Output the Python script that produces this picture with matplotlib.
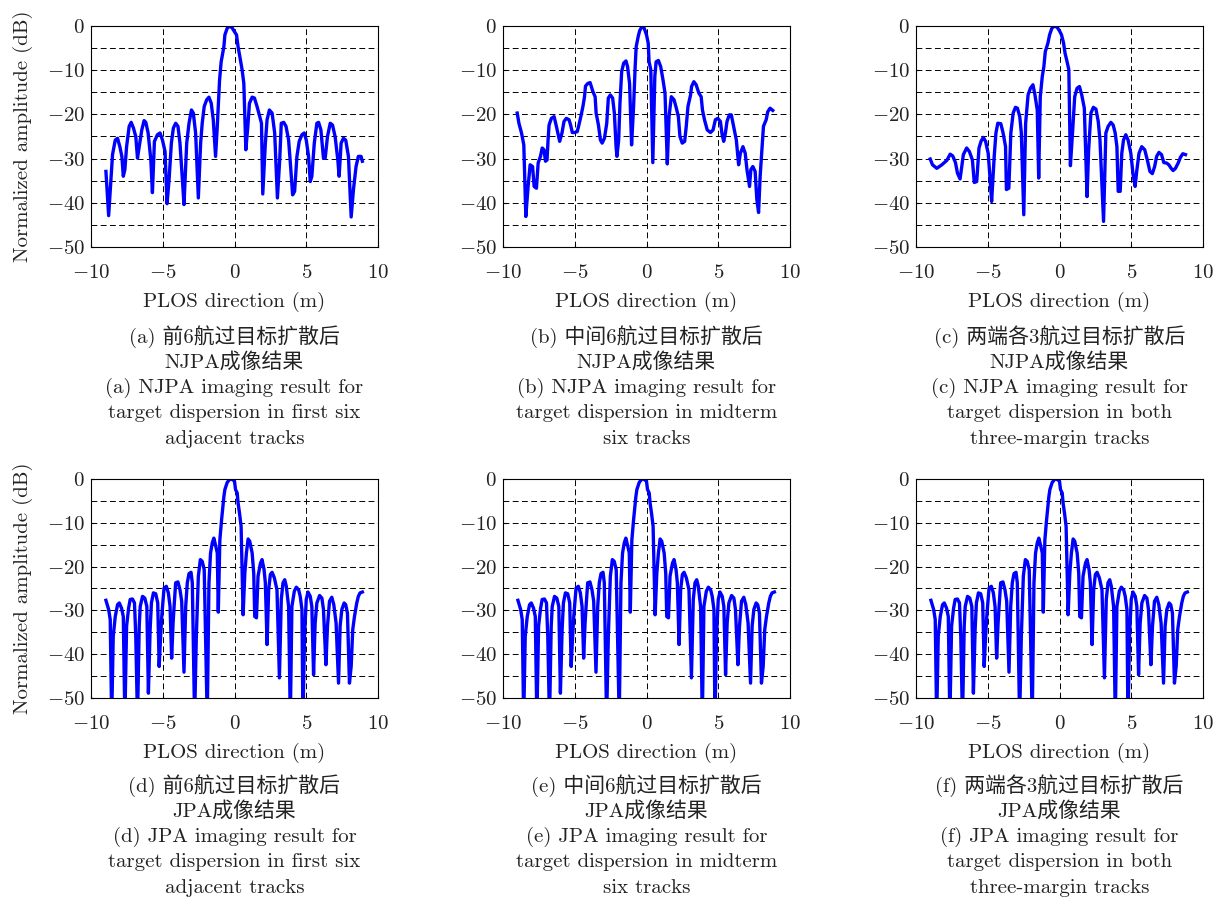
import matplotlib
matplotlib.use("Agg")
import matplotlib.pyplot as plt
import numpy as np

plt.rcParams['font.family'] = ['cmr10', 'Noto Sans CJK SC']
plt.rcParams['mathtext.fontset'] = 'cm'
plt.rcParams['axes.formatter.use_mathtext'] = True
plt.rcParams['font.size'] = 15

# (x in m, normalized amplitude in dB)
njpa_first = [(-8.96,-32.9),(-8.77,-42.9),(-8.5,-29.1),(-8.31,-25.8),(-8.15,-25.4),(-7.99,-27.3),(-7.85,-29.5),(-7.75,-34.0),(-7.64,-32.5),(-7.52,-27.3),(-7.34,-22.7),(-7.2,-21.8),(-7.04,-23.1),(-6.88,-25.0),(-6.76,-29.9),(-6.64,-27.3),(-6.46,-23.5),(-6.3,-21.4),(-6.18,-21.8),(-6.02,-24.2),(-5.83,-30.3),(-5.72,-37.7),(-5.58,-26.1),(-5.37,-24.6),(-5.19,-24.2),(-5.02,-25.8),(-4.84,-28.4),(-4.7,-40.2),(-4.56,-34.8),(-4.4,-26.5),(-4.26,-23.1),(-4.1,-22.0),(-3.94,-22.7),(-3.8,-26.5),(-3.63,-34.8),(-3.52,-40.4),(-3.33,-26.5),(-3.17,-22.0),(-3.0,-19.0),(-2.87,-19.7),(-2.71,-24.2),(-2.52,-38.9),(-2.36,-26.5),(-2.25,-22.0),(-2.11,-18.2),(-1.94,-16.7),(-1.78,-16.1),(-1.62,-17.5),(-1.48,-21.2),(-1.32,-29.5),(-1.2,-22.7),(-1.04,-12.2),(-0.93,-8.1),(-0.74,-4.7),(-0.67,-2.0),(-0.51,-0.5),(-0.32,0.0),(-0.16,-0.45),(0.0,-1.3),(0.14,-2.0),(0.25,-4.7),(0.37,-6.9),(0.53,-9.9),(0.65,-13.0),(0.79,-28.0),(0.93,-22.7),(1.04,-17.5),(1.23,-16.1),(1.39,-16.3),(1.57,-18.2),(1.76,-20.5),(1.88,-22.0),(1.97,-38.0),(2.15,-26.5),(2.27,-21.2),(2.43,-19.0),(2.62,-19.7),(2.8,-24.2),(2.99,-38.9),(3.15,-30.3),(3.26,-22.0),(3.43,-21.8),(3.59,-22.7),(3.77,-25.8),(3.91,-31.8),(4.05,-38.2),(4.19,-37.4),(4.35,-29.5),(4.51,-26.1),(4.7,-24.6),(4.86,-24.2),(5.0,-25.8),(5.16,-29.5),(5.28,-35.2),(5.39,-34.0),(5.56,-26.5),(5.74,-22.0),(5.86,-21.8),(6.02,-23.5),(6.2,-29.9),(6.32,-29.9),(6.48,-25.0),(6.67,-22.0),(6.83,-22.4),(7.01,-25.0),(7.2,-30.3),(7.29,-34.0),(7.43,-26.5),(7.59,-25.4),(7.75,-25.8),(7.94,-29.5),(8.13,-43.2),(8.29,-37.0),(8.47,-31.8),(8.63,-29.5),(8.82,-29.5),(8.91,-30.6)]

njpa_mid = [(-9.01,-19.7),(-8.89,-22.0),(-8.71,-24.2),(-8.55,-26.9),(-8.41,-43.1),(-8.25,-36.3),(-8.11,-31.4),(-7.94,-31.8),(-7.83,-36.3),(-7.67,-36.7),(-7.55,-31.0),(-7.39,-29.5),(-7.27,-27.6),(-7.14,-28.0),(-7.04,-30.6),(-6.93,-30.3),(-6.86,-25.8),(-6.79,-22.4),(-6.63,-20.9),(-6.44,-20.5),(-6.28,-22.7),(-6.05,-26.1),(-5.89,-24.2),(-5.75,-21.6),(-5.59,-20.9),(-5.4,-21.2),(-5.29,-22.4),(-5.17,-24.1),(-5.01,-24.1),(-4.83,-23.9),(-4.71,-22.4),(-4.55,-20.1),(-4.43,-18.2),(-4.32,-16.0),(-4.25,-13.6),(-4.09,-13.0),(-3.93,-12.8),(-3.74,-14.8),(-3.58,-16.0),(-3.51,-19.7),(-3.35,-22.4),(-3.21,-25.8),(-3.09,-26.5),(-2.93,-25.4),(-2.77,-22.0),(-2.66,-16.3),(-2.52,-15.6),(-2.36,-16.3),(-2.24,-19.7),(-2.12,-27.3),(-2.06,-29.5),(-1.94,-25.8),(-1.85,-17.5),(-1.73,-10.3),(-1.59,-8.4),(-1.43,-7.9),(-1.32,-9.2),(-1.18,-13.0),(-1.04,-26.9),(-0.9,-18.2),(-0.79,-9.2),(-0.72,-4.7),(-0.58,-2.4),(-0.48,-1.1),(-0.3,0.0),(-0.16,-0.5),(0.0,-2.0),(0.12,-3.9),(0.18,-8.1),(0.3,-9.9),(0.44,-30.9),(0.58,-11.4),(0.67,-8.1),(0.83,-7.8),(0.99,-9.2),(1.15,-12.2),(1.29,-15.2),(1.45,-31.2),(1.57,-20.5),(1.73,-16.0),(1.92,-16.7),(2.08,-18.6),(2.22,-20.5),(2.33,-25.0),(2.49,-26.5),(2.66,-26.1),(2.77,-22.7),(2.89,-18.2),(3.07,-15.6),(3.14,-13.7),(3.3,-12.6),(3.46,-13.3),(3.65,-15.2),(3.81,-16.0),(3.9,-19.0),(4.04,-21.2),(4.23,-23.5),(4.46,-24.1),(4.64,-23.5),(4.8,-21.2),(4.97,-20.9),(5.15,-21.6),(5.27,-24.6),(5.38,-26.1),(5.5,-24.2),(5.61,-21.6),(5.77,-20.1),(5.91,-20.1),(6.07,-22.7),(6.26,-25.8),(6.42,-31.4),(6.54,-28.8),(6.72,-27.3),(6.88,-28.8),(7.0,-32.5),(7.18,-36.3),(7.27,-32.5),(7.41,-31.8),(7.57,-32.9),(7.69,-39.3),(7.81,-42.2),(7.92,-34.0),(8.04,-28.0),(8.15,-22.7),(8.34,-21.2),(8.45,-19.4),(8.61,-18.6),(8.8,-19.1)]

njpa_both = [(-9.01,-30.1),(-8.85,-31.4),(-8.55,-32.2),(-8.2,-31.4),(-7.85,-30.4),(-7.62,-29.0),(-7.44,-29.4),(-7.25,-30.9),(-7.11,-33.3),(-6.93,-34.6),(-6.81,-31.8),(-6.7,-29.1),(-6.47,-27.6),(-6.28,-28.4),(-6.07,-30.3),(-5.94,-35.4),(-5.77,-35.2),(-5.61,-27.6),(-5.47,-26.1),(-5.31,-25.2),(-5.15,-26.1),(-4.97,-28.8),(-4.85,-34.0),(-4.73,-39.7),(-4.55,-29.5),(-4.43,-24.2),(-4.3,-22.0),(-4.09,-22.1),(-3.93,-24.2),(-3.76,-27.3),(-3.7,-37.0),(-3.53,-36.7),(-3.39,-24.2),(-3.23,-19.7),(-3.07,-18.4),(-2.93,-18.6),(-2.77,-20.5),(-2.66,-24.2),(-2.49,-42.7),(-2.36,-22.0),(-2.19,-15.6),(-2.03,-14.1),(-1.85,-13.3),(-1.71,-15.6),(-1.55,-19.0),(-1.45,-34.4),(-1.34,-16.0),(-1.2,-11.4),(-1.09,-9.2),(-0.99,-5.8),(-0.81,-3.9),(-0.69,-2.0),(-0.53,-0.5),(-0.35,0.0),(-0.16,-0.3),(0.0,-1.1),(0.14,-2.0),(0.28,-3.8),(0.39,-6.2),(0.53,-8.1),(0.65,-9.9),(0.76,-31.6),(0.92,-23.5),(1.06,-16.0),(1.22,-14.1),(1.39,-13.7),(1.55,-15.6),(1.73,-18.6),(1.92,-38.6),(2.03,-28.0),(2.19,-19.7),(2.36,-18.4),(2.54,-18.8),(2.7,-21.6),(2.82,-25.8),(3.07,-44.2),(3.23,-24.2),(3.39,-22.7),(3.58,-21.8),(3.74,-22.4),(3.88,-24.2),(4.0,-27.3),(4.09,-37.4),(4.23,-37.4),(4.34,-28.8),(4.46,-25.8),(4.62,-24.6),(4.78,-25.8),(4.97,-28.8),(5.13,-33.7),(5.27,-36.3),(5.38,-32.9),(5.54,-28.8),(5.73,-27.3),(5.94,-28.0),(6.12,-30.3),(6.3,-32.9),(6.47,-33.4),(6.63,-31.8),(6.77,-29.5),(6.93,-28.6),(7.11,-29.1),(7.27,-30.9),(7.46,-31.0),(7.62,-31.4),(7.78,-32.2),(7.92,-32.7),(8.08,-32.2),(8.27,-31.0),(8.43,-29.7),(8.59,-28.9),(8.78,-29.1)]

jpa = [(-8.96,-27.7),(-8.77,-29.8),(-8.66,-32.1),(-8.56,-55.0),(-8.45,-35.9),(-8.31,-31.4),(-8.15,-28.7),(-8.03,-28.3),(-7.87,-29.5),(-7.75,-31.4),(-7.64,-55.0),(-7.52,-33.6),(-7.38,-29.5),(-7.27,-27.5),(-7.11,-27.4),(-6.97,-28.3),(-6.88,-35.9),(-6.76,-55.0),(-6.64,-33.6),(-6.57,-29.1),(-6.41,-26.8),(-6.25,-27.2),(-6.11,-29.1),(-6.0,-48.9),(-5.88,-34.4),(-5.79,-28.3),(-5.65,-26.0),(-5.49,-26.2),(-5.35,-28.3),(-5.25,-42.8),(-5.16,-36.7),(-5.07,-31.4),(-4.91,-24.9),(-4.75,-24.5),(-4.61,-26.0),(-4.49,-29.1),(-4.38,-40.9),(-4.28,-32.9),(-4.21,-29.1),(-4.1,-23.7),(-3.94,-23.5),(-3.8,-25.3),(-3.68,-27.9),(-3.52,-44.1),(-3.4,-29.1),(-3.29,-23.7),(-3.17,-21.6),(-3.03,-21.3),(-2.94,-23.7),(-2.78,-55.0),(-2.66,-35.9),(-2.52,-22.2),(-2.38,-18.4),(-2.25,-18.8),(-2.11,-20.7),(-1.9,-55.0),(-1.78,-23.7),(-1.67,-16.9),(-1.55,-14.6),(-1.44,-13.5),(-1.3,-15.4),(-1.2,-16.9),(-1.13,-30.4),(-1.02,-13.9),(-0.9,-9.3),(-0.74,-4.0),(-0.67,-2.4),(-0.51,-0.8),(-0.32,0.0),(-0.16,-0.1),(0.0,-0.5),(0.07,-2.4),(0.19,-3.2),(0.25,-5.5),(0.35,-7.8),(0.46,-10.8),(0.6,-31.0),(0.72,-21.5),(0.83,-16.9),(0.95,-13.7),(1.06,-14.2),(1.23,-16.9),(1.34,-21.5),(1.41,-31.4),(1.53,-31.7),(1.64,-22.2),(1.81,-19.2),(1.92,-18.4),(2.06,-20.7),(2.15,-23.7),(2.27,-37.8),(2.38,-25.3),(2.5,-21.8),(2.62,-21.3),(2.78,-22.6),(2.96,-25.3),(3.13,-45.4),(3.26,-27.5),(3.38,-23.7),(3.5,-23.0),(3.61,-24.5),(3.77,-29.1),(3.89,-55.0),(4.0,-29.1),(4.17,-25.6),(4.31,-24.7),(4.47,-25.3),(4.58,-26.8),(4.7,-29.8),(4.77,-55.0),(4.88,-35.9),(5.0,-27.5),(5.12,-25.8),(5.28,-26.8),(5.39,-29.1),(5.51,-44.7),(5.62,-32.9),(5.74,-28.3),(5.93,-26.6),(6.09,-27.2),(6.2,-29.8),(6.37,-42.4),(6.48,-33.6),(6.62,-27.9),(6.78,-27.0),(6.92,-28.7),(7.08,-32.9),(7.25,-46.6),(7.36,-33.6),(7.48,-29.8),(7.64,-28.3),(7.75,-28.7),(7.87,-30.6),(8.01,-46.6),(8.13,-42.8),(8.24,-34.4),(8.36,-31.4),(8.52,-28.3),(8.63,-26.8),(8.75,-26.0),(8.91,-25.8)]

curves = [njpa_first, njpa_mid, njpa_both, jpa, jpa, jpa]

captions = [
    ["(a) 前6航过目标扩散后", "NJPA成像结果", "(a) NJPA imaging result for", "target dispersion in first six", "adjacent tracks"],
    ["(b) 中间6航过目标扩散后", "NJPA成像结果", "(b) NJPA imaging result for", "target dispersion in midterm", "six tracks"],
    ["(c) 两端各3航过目标扩散后", "NJPA成像结果", "(c) NJPA imaging result for", "target dispersion in both", "three-margin tracks"],
    ["(d) 前6航过目标扩散后", "JPA成像结果", "(d) JPA imaging result for", "target dispersion in first six", "adjacent tracks"],
    ["(e) 中间6航过目标扩散后", "JPA成像结果", "(e) JPA imaging result for", "target dispersion in midterm", "six tracks"],
    ["(f) 两端各3航过目标扩散后", "JPA成像结果", "(f) JPA imaging result for", "target dispersion in both", "three-margin tracks"],
]

W, H = 1215, 897
fig = plt.figure(figsize=(W / 100, H / 100), dpi=100)

lefts = [91, 503, 916]
width = 287
rows = [(26, 247, [337, 362, 388, 413, 439]), (479, 698, [786, 811, 837, 862, 888])]

for i in range(6):
    r, c = divmod(i, 3)
    top, bottom, cap_y = rows[r]
    ax = fig.add_axes([lefts[c] / W, 1 - bottom / H, width / W, (bottom - top) / H])
    d = np.array(curves[i])
    ax.plot(d[:, 0], d[:, 1], color=(0, 0, 1), lw=2.4, solid_joinstyle='round')
    ax.set_xlim(-10, 10)
    ax.set_ylim(-50, 0)
    ax.set_xticks([-10, -5, 0, 5, 10])
    ax.set_yticks([0, -10, -20, -30, -40, -50])
    ax.set_yticks([-5, -15, -25, -35, -45], minor=True)
    ax.tick_params(which='major', direction='in', length=2.5, width=0.8,
                   labelsize=15, colors='black', labelcolor='#222222')
    ax.tick_params(which='minor', length=0)
    ax.tick_params(axis='x', pad=12)
    ax.tick_params(axis='y', pad=4.5)
    ax.grid(True, which='both', color='black', lw=0.7, linestyle=(0, (6, 3.5)))
    ax.set_axisbelow(True)
    for s in ax.spines.values():
        s.set_linewidth(0.8)
    ax.set_xlabel("PLOS direction (m)", fontsize=15, labelpad=7, color='#222222')
    if c == 0:
        ax.set_ylabel("Normalized amplitude (dB)", fontsize=15, color='#222222')
        ax.yaxis.set_label_coords((33 - lefts[c]) / width, 0.5)
    cx = (lefts[c] + width / 2) / W
    for line, y in zip(captions[i], cap_y):
        fig.text(cx, 1 - y / H, line, ha='center', va='center', fontsize=15, color='#222222')

fig.savefig("out.png", dpi=100)
